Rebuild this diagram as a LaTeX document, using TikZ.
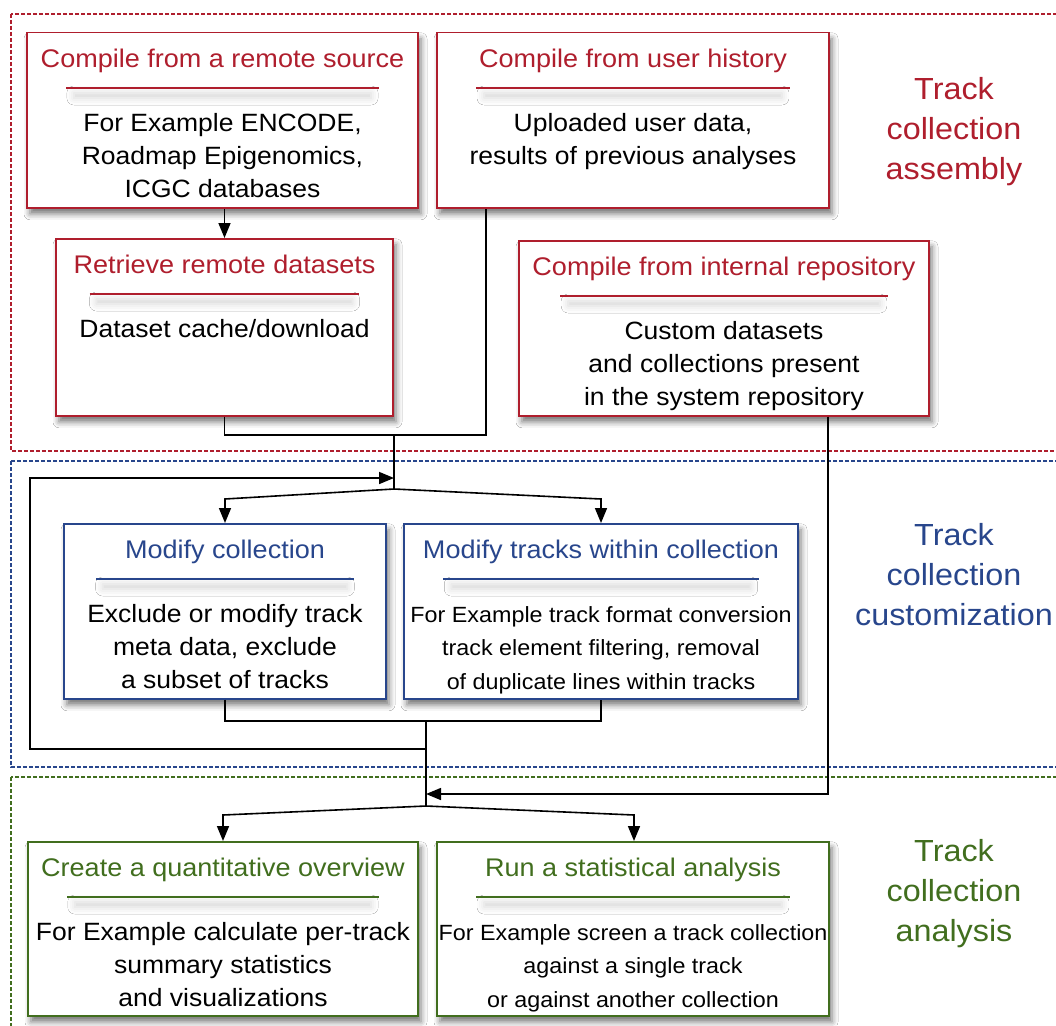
\documentclass[tikz,border=0pt]{standalone}
\usepackage{fontspec}
\setmainfont[FakeStretch=1.06]{Liberation Sans}
\usetikzlibrary{arrows.meta,shadows.blur,calc}
\definecolor{mred}{RGB}{175,30,45}
\definecolor{mblue}{RGB}{40,70,140}
\definecolor{mgreen}{RGB}{65,110,30}
\tikzset{
 fbox/.style={rectangle, fill=white, line width=1.5pt, inner sep=0pt,
   blur shadow={shadow xshift=3pt, shadow yshift=-6pt, shadow blur radius=6pt, shadow opacity=55}},
 ftitle/.style={inner sep=0pt, font=\fontsize{25.5}{30}\selectfont},
 fbody/.style={inner sep=0pt, align=center, font=\fontsize{25}{33}\selectfont, yshift=17.9pt},
 fsmall/.style={inner sep=0pt, align=center, font=\fontsize{22}{33.5}\selectfont, yshift=15.8pt},
 frule/.style={line width=1.5pt},
 region/.style={dash pattern=on 4pt off 2pt, line width=1.2pt},
 glabel/.style={inner sep=0pt, align=center, font=\fontsize{30.5}{40}\selectfont, anchor=north, yshift=21.8pt},
 conn/.style={line width=1.6pt, black},
 arr/.style={conn, -{Triangle[length=15pt,width=12pt]}},
}
% #1 name, #2 center x, #3 top y, #4 width, #5 height, #6 colour, #7 title, #8 body, #9 body style
\newcommand{\flowbox}[9]{%
 \node[fbox, draw=#6, minimum width=#4pt, minimum height=#5pt, anchor=north] (#1) at (#2,#3) {};
 \path[blur shadow={shadow xshift=0pt, shadow yshift=-6pt, shadow blur radius=7pt, shadow opacity=16}]
   (#2-0.38*#4,#3+55) rectangle (#2+0.38*#4,#3+60);
 \draw[frule, draw=#6] (#2-0.4*#4,#3+56) coordinate (#1-rl) -- (#2+0.4*#4,#3+56) coordinate (#1-rr);
 \node[ftitle, text=#6, anchor=base] (#1-title) at (#2,#3+35) {#7};
 \node[#9, anchor=north] (#1-body) at (#2,#3+99) {#8};
}
\begin{document}
\begin{tikzpicture}[x=1pt,y=-1pt]
\fill[white] (0,0) rectangle (1056,1025);
\useasboundingbox (0,0) rectangle (1056,1025);
% regions
\draw[region, draw=mred] (11,14) rectangle (1075,451);
\draw[region, draw=mblue] (11,461) rectangle (1075,767);
\draw[region, draw=mgreen] (11,777) rectangle (1075,1040);
% region labels
\node[glabel, text=mred] (lred) at (954,99) {Track\\collection\\assembly};
\node[glabel, text=mblue] (lblue) at (954,545) {Track\\collection\\customization};
\node[glabel, text=mgreen] (lgreen) at (954,861) {Track\\collection\\analysis};
% connector points
\coordinate (c2) at (486,435);
\coordinate (ja) at (394,435);
\coordinate (jb) at (394,489);
\coordinate (s1) at (225,499);
\coordinate (s2) at (601,499);
\coordinate (m2) at (426,721);
\coordinate (m3) at (426,749);
\coordinate (fbc) at (30,478);
\coordinate (jf) at (394,478);
\coordinate (c4) at (828,794);
\coordinate (m5) at (426,794);
\coordinate (m4) at (426,806);
\coordinate (t1) at (223,815);
\coordinate (t2) at (634,815);
% boxes
\flowbox{b1}{222.5}{32}{391}{175}{mred}{Compile from a remote source}{For Example ENCODE,\\Roadmap Epigenomics,\\ICGC databases}{fbody}
\flowbox{b2}{633}{32}{392}{175}{mred}{Compile from user history}{Uploaded user data,\\results of previous analyses}{fbody}
\flowbox{b3}{224.5}{238}{337}{177}{mred}{Retrieve remote datasets}{Dataset cache/download}{fbody}
\flowbox{b4}{724}{240}{410}{175}{mred}{Compile from internal repository}{Custom datasets\\and collections present\\in the system repository}{fbody}
\flowbox{b5}{225}{523}{322}{175}{mblue}{Modify collection}{Exclude or modify track\\meta data, exclude\\a subset of tracks}{fbody}
\flowbox{b6}{601}{523}{394}{175}{mblue}{Modify tracks within collection}{For Example track format conversion\\track element filtering, removal\\of duplicate lines within tracks}{fsmall}
\flowbox{b7}{223}{841}{390}{174}{mgreen}{Create a quantitative overview}{For Example calculate per-track\\summary statistics\\and visualizations}{fbody}
\flowbox{b8}{633}{841}{392}{174}{mgreen}{Run a statistical analysis}{For Example screen a track collection\\against a single track\\or against another collection}{fsmall}
% connectors
\draw[arr] (b1.south -| b3.north) -- (b3.north);
\draw[conn] (b3.south) |- (c2) -- (c2 |- b2.south);
\draw[conn] (ja) -- (jb);
\draw[arr] (jb) -- (s1) -- (b5.north);
\draw[arr] (jb) -- (s2) -- (b6.north);
\draw[conn] (b5.south) |- (m2) -| (b6.south);
\draw[conn] (m2) -- (m4);
\draw[arr] (m3) -| (fbc) -- (jf);
\draw[arr] (c4 |- b4.south) -- (c4) -- (m5);
\draw[arr] (m4) -- (t1) -- (t1 |- b7.north);
\draw[arr] (m4) -- (t2) -- (t2 |- b8.north);
\end{tikzpicture}
\end{document}
